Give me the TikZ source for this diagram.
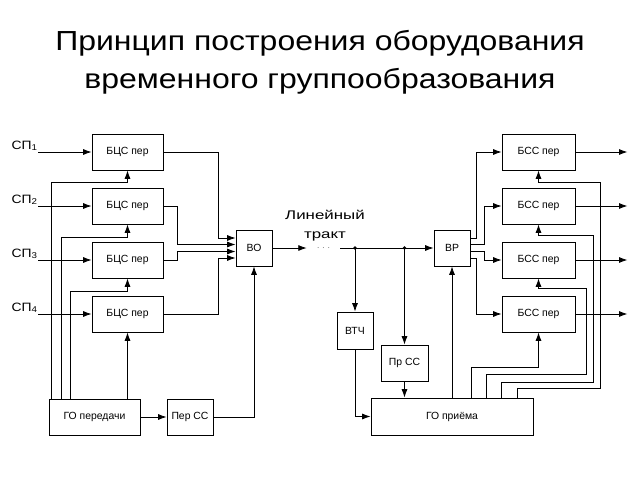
\documentclass[tikz,border=0pt]{standalone}
\usepackage{fontspec}
\setmainfont{Liberation Sans}
\newfontfamily\titlefont[FakeStretch=1.16]{Liberation Sans}
\newfontfamily\widefont[FakeStretch=1.35]{Liberation Sans}
\newfontfamily\spfont[FakeStretch=1.15]{Liberation Sans}
\usetikzlibrary{arrows.meta,calc}

\tikzset{
  blk/.style={draw, line width=0.6pt, inner sep=0pt, font=\fontsize{7.4}{9}\selectfont},
  chan/.style={blk, minimum width=50.5pt, minimum height=25.6pt},
  chanrx/.style={blk, minimum width=51.9pt, minimum height=25.6pt},
  sq/.style={blk, minimum width=25.6pt, minimum height=25.6pt},
  arr/.style={line width=0.6pt, -{Latex[length=2.1mm,width=1.5mm]}},
  lbl/.style={inner sep=0pt, font=\spfont\fontsize{8.6}{10}\selectfont}
}

\begin{document}
\begin{tikzpicture}[x=0.025cm, y=-0.025cm]
  \useasboundingbox (0,0) rectangle (640,480);

  % title
  \node[align=center, font=\titlefont\fontsize{19.6}{27}\selectfont] (title) at (320,62)
    {Принцип построения оборудования\\временного группообразования};

  % transmitting side
  \node[chan] (b1) at (127.5,152) {БЦС пер};
  \node[chan] (b2) at (127.5,206) {БЦС пер};
  \node[chan] (b3) at (127.5,260) {БЦС пер};
  \node[chan] (b4) at (127.5,314) {БЦС пер};
  \node[blk, minimum width=64.7pt, minimum height=25.6pt] (go1) at (94.5,417) {ГО передачи};
  \node[blk, minimum width=32.7pt, minimum height=25.6pt] (perss) at (190,417) {Пер СС};
  \node[sq] (vo) at (254,248) {ВО};

  \node[lbl, anchor=east] (sp1) at (38,146) {СП\textsubscript{1}};
  \node[lbl, anchor=east] (sp2) at (38,200) {СП\textsubscript{2}};
  \node[lbl, anchor=east] (sp3) at (38,254) {СП\textsubscript{3}};
  \node[lbl, anchor=east] (sp4) at (38,308) {СП\textsubscript{4}};

  \draw[arr] (sp1.east |- b1.west) -- (b1.west);
  \draw[arr] (sp2.east |- b2.west) -- (b2.west);
  \draw[arr] (sp3.east |- b3.west) -- (b3.west);
  \draw[arr] (sp4.east |- b4.west) -- (b4.west);

  \draw[arr] ($(go1.north west)+(3,0)$) |- ($(b1.south)+(0,12)$) -- (b1.south);
  \draw[arr] ($(go1.north west)+(13,0)$) |- ($(b2.south)+(0,13)$) -- (b2.south);
  \draw[arr] ($(go1.north west)+(22,0)$) |- ($(b3.south)+(0,13)$) -- (b3.south);
  \draw[arr] (go1.north -| b4.south) -- (b4.south);
  \draw[arr] (go1) -- (perss);
  \draw[arr] (perss.east) -| (vo.south);

  \draw[arr] (b1.east) -- ++(55,0) |- ($(vo.west)+(0,-10)$);
  \draw[arr] (b2.east) -- ++(14,0) |- ($(vo.west)+(0,-3.5)$);
  \draw[arr] (b3.east) -- ++(14,0) |- ($(vo.west)+(0,3.5)$);
  \draw[arr] (b4.east) -- ++(55,0) |- ($(vo.west)+(0,10)$);

  % line
  \node[align=center, inner sep=0pt, font=\widefont\fontsize{8.9}{13.5}\selectfont] (lt) at (325,226)
    {Линейный\\тракт};
  \node[inner sep=0pt, minimum width=23.5pt, text=gray, font=\scriptsize] (dots) at (323.5,248) {$\cdots$};
  \draw[arr] (vo.east) -- (dots.west);

  % receiving side
  \node[sq] (vr) at (452,248) {ВР};
  \node[blk, minimum width=25.6pt, minimum height=26.3pt] (vtch) at (355,330.5) {ВТЧ};
  \node[blk, minimum width=33.4pt, minimum height=25.6pt] (prss) at (404.5,363) {Пр СС};
  \node[blk, minimum width=115.2pt, minimum height=26.3pt] (go2) at (452,416.5) {ГО приёма};
  \node[chanrx] (s1) at (538.5,152) {БСС пер};
  \node[chanrx] (s2) at (538.5,206) {БСС пер};
  \node[chanrx] (s3) at (538.5,260) {БСС пер};
  \node[chanrx] (s4) at (538.5,314) {БСС пер};

  \coordinate (d1) at (vtch.north |- vr.west);
  \coordinate (d2) at (prss.north |- vr.west);
  \draw[arr] (dots.east) -- (vr.west);
  \fill (d1) circle (1.8);
  \fill (d2) circle (1.8);
  \draw[arr] (d1) -- (vtch.north);
  \draw[arr] (d2) -- (prss.north);
  \draw[arr] (vtch.south) |- (go2.west);
  \draw[arr] (prss.south) -- (prss.south |- go2.north);
  \draw[arr] (go2.north) -- (vr.south);

  \draw[arr] ($(vr.east)+(0,-10)$) -- ++(6,0) |- (s1.west);
  \draw[arr] ($(vr.east)+(0,-3.5)$) -- ++(14,0) |- (s2.west);
  \draw[arr] ($(vr.east)+(0,3.5)$) -- ++(14,0) |- (s3.west);
  \draw[arr] ($(vr.east)+(0,10)$) -- ++(6,0) |- (s4.west);

  \draw[arr] ($(go2.north west)+(101,0)$) |- ($(s4.south)+(0,35)$) -- (s4.south);
  \draw[arr] ($(go2.north west)+(116,0)$) |- ($(s4.south east)+(11,42)$) |- ($(s3.south)+(0,10)$) -- (s3.south);
  \draw[arr] ($(go2.north west)+(131,0)$) |- ($(s4.south east)+(18,50)$) |- ($(s2.south)+(0,11)$) -- (s2.south);
  \draw[arr] ($(go2.north west)+(147,0)$) |- ($(s4.south east)+(25,56)$) |- ($(s1.south)+(0,12)$) -- (s1.south);

  \draw[arr] (s1.east) -- ++(52,0);
  \draw[arr] (s2.east) -- ++(52,0);
  \draw[arr] (s3.east) -- ++(52,0);
  \draw[arr] (s4.east) -- ++(52,0);
\end{tikzpicture}
\end{document}
